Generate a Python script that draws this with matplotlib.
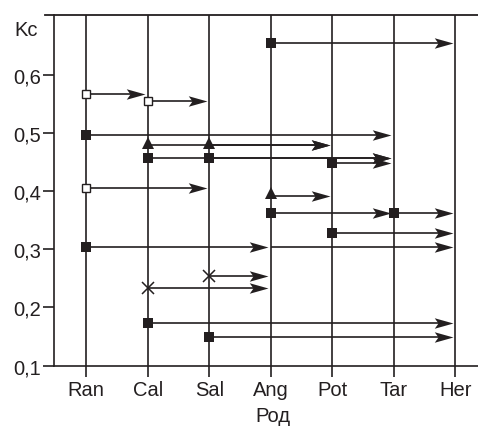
import matplotlib
matplotlib.use("Agg")
import matplotlib.pyplot as plt
from matplotlib.path import Path

# ---- data ----
categories = ['Ran', 'Cal', 'Sal', 'Ang', 'Pot', 'Tar', 'Her']
y_ticks = [0.1, 0.2, 0.3, 0.4, 0.5, 0.6]
y_tick_labels = ['0,1', '0,2', '0,3', '0,4', '0,5', '0,6']

# filled squares: source, target, Kc
sq_src = ['Ang', 'Ran', 'Cal', 'Sal', 'Pot', 'Ang', 'Tar', 'Pot', 'Ran', 'Cal', 'Sal']
sq_dst = ['Her', 'Tar', 'Tar', 'Tar', 'Tar', 'Tar', 'Her', 'Her', 'Ang', 'Her', 'Her']
sq_val = [0.655, 0.497, 0.456, 0.456, 0.448, 0.362, 0.363, 0.328, 0.304, 0.174, 0.150]

# open squares
osq_src = ['Ran', 'Cal', 'Ran']
osq_dst = ['Cal', 'Sal', 'Sal']
osq_val = [0.567, 0.555, 0.406]

# filled triangles
tri_src = ['Cal', 'Sal', 'Ang']
tri_dst = ['Pot', 'Pot', 'Pot']
tri_val = [0.479, 0.479, 0.392]

# crosses
crs_src = ['Sal', 'Cal']
crs_dst = ['Ang', 'Ang']
crs_val = [0.254, 0.233]

# plain arrow without marker
pl_src = ['Ang']
pl_dst = ['Her']
pl_val = [0.304]

# ---- style ----
INK = '#231f20'
FS = 14.5
plt.rcParams['font.family'] = ['Liberation Sans', 'DejaVu Sans']

W, H = 478, 427
fig = plt.figure(figsize=(W / 100, H / 100), dpi=100)
ax_left, ax_right = 54 / W, 1.0
ax_bottom, ax_top = 1 - 366.7 / H, 1 - 15.7 / H
ax = fig.add_axes([ax_left, ax_bottom, ax_right - ax_left, ax_top - ax_bottom])

xpos = {c: i for i, c in enumerate(categories)}
ax.set_xlim(-0.525, 6.37)
ax.set_ylim(0.1, 0.703)

# vertical lines at categories
for c in categories:
    ax.axvline(xpos[c], color=INK, lw=1.2, zorder=1)

head = Path([(0, 0), (-1, 0.28), (-0.8, 0), (-1, -0.28), (0, 0)],
            [Path.MOVETO, Path.LINETO, Path.LINETO, Path.LINETO, Path.CLOSEPOLY])
gap = 0.042


def arrows(src, dst, val):
    for s, d, v in zip(src, dst, val):
        x0, x1 = xpos[s], xpos[d] - gap
        ax.plot([x0, x1 - 0.1], [v, v], color=INK, lw=1.2, zorder=2,
                solid_capstyle='butt')
        ax.plot([x1], [v], marker=head, markersize=27, color=INK,
                markeredgewidth=0, linestyle='none', zorder=3)


for grp in [(sq_src, sq_dst, sq_val), (osq_src, osq_dst, osq_val),
            (tri_src, tri_dst, tri_val), (crs_src, crs_dst, crs_val),
            (pl_src, pl_dst, pl_val)]:
    arrows(*grp)

ax.plot([xpos[s] for s in sq_src], sq_val, 's', ms=7.2, color=INK,
        mew=0, linestyle='none', zorder=5)
ax.plot([xpos[s] for s in osq_src], osq_val, 's', ms=6.3, mfc='white',
        mec=INK, mew=1.0, linestyle='none', zorder=5)
ax.plot([xpos[s] for s in tri_src], [v + 0.004 for v in tri_val], '^', ms=9,
        color=INK, mew=0, linestyle='none', zorder=5)
ax.plot([xpos[s] for s in crs_src], crs_val, 'x', ms=9, mew=1.1, color=INK,
        linestyle='none', zorder=5)

# spines / ticks
for sp in ['right', 'top']:
    ax.spines[sp].set_visible(False)
for sp in ['left', 'bottom']:
    ax.spines[sp].set_color(INK)
    ax.spines[sp].set_linewidth(1.2)
ax.axhline(0.703, xmin=-9 / 424, xmax=1, color=INK, lw=1.3, clip_on=False)

ax.set_yticks(y_ticks)
ax.set_yticklabels(y_tick_labels)
ax.set_xticks(range(len(categories)))
ax.set_xticklabels(categories)
ax.tick_params(axis='both', direction='out', length=8, width=1.2, colors=INK,
               labelsize=FS)
ax.tick_params(axis='y', pad=1.5)
ax.tick_params(axis='x', pad=2)

fig.text(38 / W, 1 - 30 / H, 'Kc', ha='right', va='center', fontsize=FS,
         color=INK)
fig.text(273 / W, 1 - 417 / H, 'Род', ha='center', va='center', fontsize=FS,
         color=INK)

fig.savefig('out.png', dpi=100)
